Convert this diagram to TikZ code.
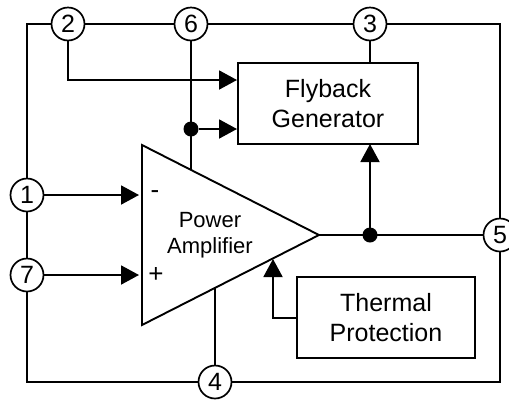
\documentclass[tikz,border=0pt]{standalone}
\usepackage{fontspec}
\setmainfont{Liberation Sans}
\usetikzlibrary{arrows.meta}
\tikzset{
  wire/.style={line width=1.9pt,line cap=butt,line join=miter},
  arrowwire/.style={wire,-{Triangle[length=18pt,width=19pt]}},
  pin/.style={circle,draw,line width=1.7pt,fill=white,minimum size=33pt,inner sep=0pt,outer sep=0pt,font=\fontsize{25}{25}\selectfont},
  block/.style={draw,line width=1.9pt,inner sep=0pt,outer sep=0pt,align=center,font=\fontsize{25}{30.5}\selectfont},
  dot/.style={circle,fill=black,minimum size=15pt,inner sep=0pt,outer sep=0pt},
  sign/.style={inner sep=0pt,font=\fontsize{26}{26}\selectfont},
}
\begin{document}
\begin{tikzpicture}[x=1pt,y=-1pt]
\useasboundingbox (0,0) rectangle (509,400);
\coordinate (triA) at (142,145);
\coordinate (triB) at (142,325);
\coordinate (triC) at (319,235);
\draw[wire,fill=white] (triA) -- (triC) -- (triB) -- cycle;
\node[block,minimum width=180pt,minimum height=81pt] (fly) at (328,103.5) {Flyback\\Generator};
\node[block,minimum width=178pt,minimum height=81pt] (therm) at (386,317.5) {Thermal\\Protection};
\node[inner sep=0pt,align=center,font=\fontsize{22}{26}\selectfont] (amp) at (210,235) {Power\\Amplifier};
\node[sign] (minus) at (155,195) {-};
\node[sign] (plus) at (156,275) {+};
\node[pin] (p2) at (68,24) {2};
\node[pin] (p6) at (191,24) {6};
\node[pin] (p3) at (370,24) {3};
\node[pin] (p1) at (27,195) {1};
\node[pin] (p7) at (27,275) {7};
\node[pin] (p4) at (215,382) {4};
\node[pin] (p5) at (500,235) {5};
\node[dot] (d1) at (191,129) {};
\node[dot] (d2) at (370,235) {};
\coordinate (in1) at (139,195);
\coordinate (in7) at (139,275);
\coordinate (fin2) at (237,80);
\coordinate (fin6) at (237,129);
\coordinate (ftop) at (370,63);
\coordinate (fbot) at (370,144);
\coordinate (t6) at (191,170);
\coordinate (t4) at (215,288);
\coordinate (t7) at (273,259);
\coordinate (tout) at (297,318);
\coordinate (bend) at (273,318);
% outer frame
\draw[wire] (p1) |- (p2);
\draw[wire] (p2) -- (p6);
\draw[wire] (p6) -- (p3);
\draw[wire] (p3) -| (p5);
\draw[wire] (p5) |- (p4);
\draw[wire] (p4) -| (p7);
\draw[wire] (p7) -- (p1);
% inner
\draw[arrowwire] (p2) |- (fin2);
\draw[wire] (p6) -- (t6);
\draw[arrowwire] (d1) -- (fin6);
\draw[wire] (p3) -- (ftop);
\draw[arrowwire] (p1) -- (in1);
\draw[arrowwire] (p7) -- (in7);
\draw[wire] (p4) -- (t4);
\draw[wire] (triC) -- (p5);
\draw[arrowwire] (d2) -- (fbot);
\draw[arrowwire] (tout) -- (bend) -- (t7);
\end{tikzpicture}
\end{document}
